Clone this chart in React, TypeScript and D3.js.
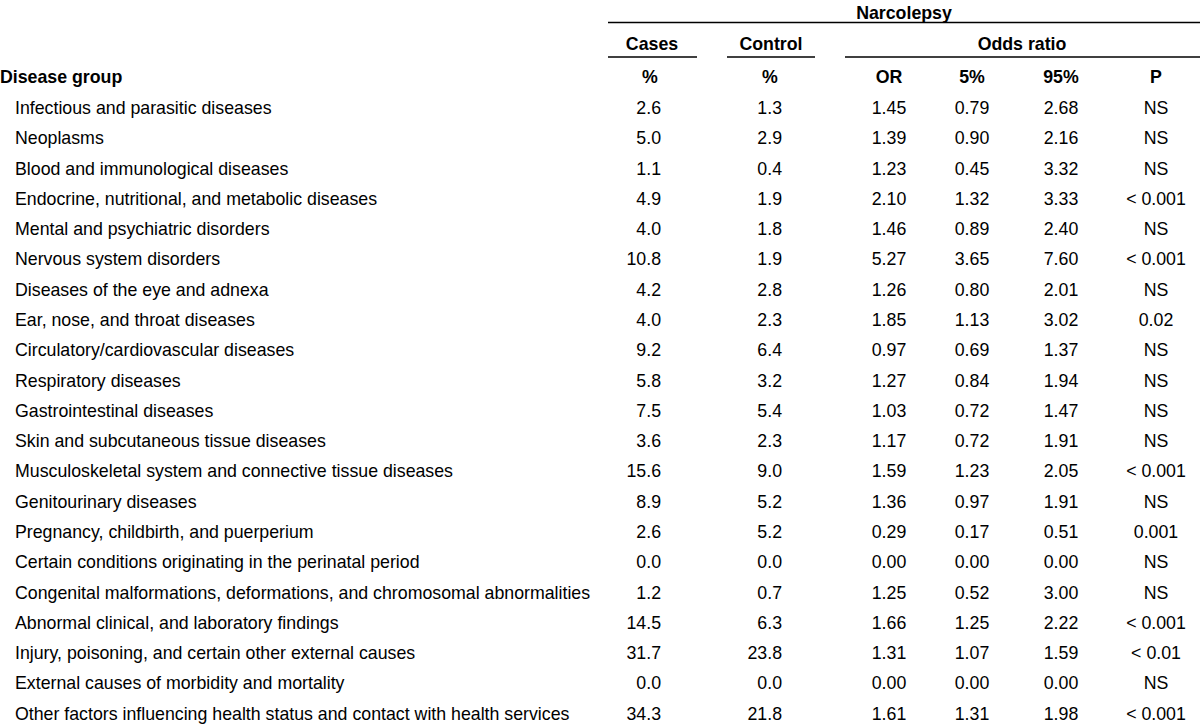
import React from "react";
import * as d3 from "d3";

const diseaseGroups = [
  "Infectious and parasitic diseases",
  "Neoplasms",
  "Blood and immunological diseases",
  "Endocrine, nutritional, and metabolic diseases",
  "Mental and psychiatric disorders",
  "Nervous system disorders",
  "Diseases of the eye and adnexa",
  "Ear, nose, and throat diseases",
  "Circulatory/cardiovascular diseases",
  "Respiratory diseases",
  "Gastrointestinal diseases",
  "Skin and subcutaneous tissue diseases",
  "Musculoskeletal system and connective tissue diseases",
  "Genitourinary diseases",
  "Pregnancy, childbirth, and puerperium",
  "Certain conditions originating in the perinatal period",
  "Congenital malformations, deformations, and chromosomal abnormalities",
  "Abnormal clinical, and laboratory findings",
  "Injury, poisoning, and certain other external causes",
  "External causes of morbidity and mortality",
  "Other factors influencing health status and contact with health services",
];

const casesPct = [2.6, 5.0, 1.1, 4.9, 4.0, 10.8, 4.2, 4.0, 9.2, 5.8, 7.5, 3.6, 15.6, 8.9, 2.6, 0.0, 1.2, 14.5, 31.7, 0.0, 34.3];
const controlPct = [1.3, 2.9, 0.4, 1.9, 1.8, 1.9, 2.8, 2.3, 6.4, 3.2, 5.4, 2.3, 9.0, 5.2, 5.2, 0.0, 0.7, 6.3, 23.8, 0.0, 21.8];
const oddsRatio = [1.45, 1.39, 1.23, 2.10, 1.46, 5.27, 1.26, 1.85, 0.97, 1.27, 1.03, 1.17, 1.59, 1.36, 0.29, 0.00, 1.25, 1.66, 1.31, 0.00, 1.61];
const ciLow = [0.79, 0.90, 0.45, 1.32, 0.89, 3.65, 0.80, 1.13, 0.69, 0.84, 0.72, 0.72, 1.23, 0.97, 0.17, 0.00, 0.52, 1.25, 1.07, 0.00, 1.31];
const ciHigh = [2.68, 2.16, 3.32, 3.33, 2.40, 7.60, 2.01, 3.02, 1.37, 1.94, 1.47, 1.91, 2.05, 1.91, 0.51, 0.00, 3.00, 2.22, 1.59, 0.00, 1.98];
const pValues = ["NS", "NS", "NS", "< 0.001", "NS", "< 0.001", "NS", "0.02", "NS", "NS", "NS", "NS", "< 0.001", "NS", "0.001", "NS", "NS", "< 0.001", "< 0.01", "NS", "< 0.001"];

const columnKeys = ["cases", "control", "or", "lo", "hi", "p"];
const columnHeaders = ["%", "%", "OR", "5%", "95%", "P"];

const W = 1200;
const H = 724;
const FONT = "'Liberation Sans', Arial, sans-serif";
const FS = 19;
const SX = 0.935;

type TProps = {
  x: number;
  y: number;
  anchor?: "start" | "middle" | "end";
  bold?: boolean;
  dy?: string;
  children: React.ReactNode;
};

function T({ x, y, anchor = "start", bold = false, dy, children }: TProps) {
  return (
    <text
      transform={`translate(${x},${y}) scale(${SX},1)`}
      textAnchor={anchor}
      fontSize={FS}
      fontWeight={bold ? "bold" : "normal"}
      dy={dy}
      fill="#000"
    >
      {children}
    </text>
  );
}

export default function App() {
  const rowIdx = d3.range(diseaseGroups.length);
  const y = d3.scaleBand<number>().domain(rowIdx).range([92, 728]).paddingInner(0);
  const colCenter = d3
    .scaleOrdinal<string, number>()
    .domain(columnKeys)
    .range([650, 770, 889, 972, 1061, 1156]);
  const rightAlign: Record<string, number> = { cases: 661, control: 782 };
  const fmt1 = d3.format(".1f");
  const fmt2 = d3.format(".2f");

  const cellText = (k: string, i: number) => {
    switch (k) {
      case "cases": return fmt1(casesPct[i]);
      case "control": return fmt1(controlPct[i]);
      case "or": return fmt2(oddsRatio[i]);
      case "lo": return fmt2(ciLow[i]);
      case "hi": return fmt2(ciHigh[i]);
      default: return pValues[i];
    }
  };

  const headerY = 83;
  const lineW = 1.5;

  return (
    <div style={{ position: "absolute", left: 0, top: 0, width: W, height: H, background: "#fff" }}>
      <svg width={W} height={H} style={{ display: "block", fontFamily: FONT }}>
        <rect width={W} height={H} fill="#fff" />
        <T x={904} y={19} anchor="middle" bold>Narcolepsy</T>
        <line x1={608} x2={1200} y1={22.5} y2={22.5} stroke="#000" strokeWidth={lineW} />
        <T x={652} y={50} anchor="middle" bold>Cases</T>
        <T x={771} y={50} anchor="middle" bold>Control</T>
        <T x={1022} y={50} anchor="middle" bold>Odds ratio</T>
        <line x1={608} x2={697} y1={57} y2={57} stroke="#000" strokeWidth={lineW} />
        <line x1={727} x2={815} y1={57} y2={57} stroke="#000" strokeWidth={lineW} />
        <line x1={845} x2={1200} y1={57} y2={57} stroke="#000" strokeWidth={lineW} />

        <T x={0} y={headerY} bold>Disease group</T>
        {columnKeys.map((k, j) => (
          <T key={k} x={colCenter(k)} y={headerY} anchor="middle" bold>
            {columnHeaders[j]}
          </T>
        ))}

        {rowIdx.map((i) => {
          const cy = (y(i) as number) + y.bandwidth() / 2;
          return (
            <g key={i}>
              <T x={15} y={cy} dy="0.36em">{diseaseGroups[i]}</T>
              {columnKeys.map((k) => {
                const ra = rightAlign[k];
                return (
                  <T
                    key={k}
                    x={ra !== undefined ? ra : colCenter(k)}
                    y={cy}
                    dy="0.36em"
                    anchor={ra !== undefined ? "end" : "middle"}
                  >
                    {cellText(k, i)}
                  </T>
                );
              })}
            </g>
          );
        })}
      </svg>
    </div>
  );
}
